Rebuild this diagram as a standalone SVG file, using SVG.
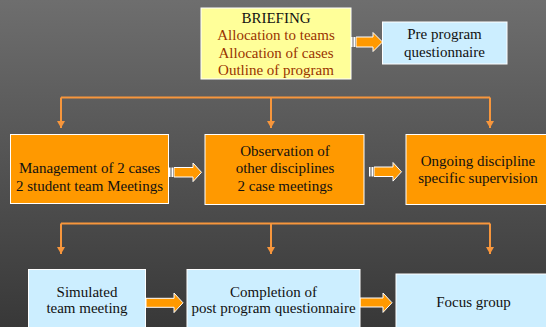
<svg xmlns="http://www.w3.org/2000/svg" width="546" height="327" viewBox="0 0 546 327" font-family="Liberation Serif, Times New Roman, serif">
<defs>
<linearGradient id="bg" x1="0" y1="0" x2="0" y2="1">
<stop offset="0" stop-color="#6e6e6e"/>
<stop offset="1" stop-color="#383838"/>
</linearGradient>
<marker id="ah" viewBox="0 0 7 8" refX="7" refY="4" markerWidth="7" markerHeight="8" markerUnits="userSpaceOnUse" orient="auto">
<path d="M0,0 L7,4 L0,8 z" fill="#f7963c"/>
</marker>
<style>
.t{font-size:15px;text-anchor:middle;fill:#111}
.br{fill:#993300}
.box{stroke:#ffffff;stroke-width:1}
.yel{fill:#ffff99}
.blu{fill:#cceeff}
.org{fill:#ff9900}
.ln{fill:none;stroke:#f7963c;stroke-width:2}
.ba{fill:#ff9900;stroke:#ffffff;stroke-width:1}
.st{fill:#ffffff}
</style>
</defs>
<rect x="0" y="0" width="546" height="327" fill="url(#bg)"/>

<g id="connectors">
<path class="ln" d="M61,97.5 H490"/>
<path class="ln" d="M61,97.5 V128" marker-end="url(#ah)"/>
<path class="ln" d="M271,97.5 V128" marker-end="url(#ah)"/>
<path class="ln" d="M490,97.5 V128" marker-end="url(#ah)"/>
<path class="ln" d="M61,223.5 H490"/>
<path class="ln" d="M61,223.5 V254" marker-end="url(#ah)"/>
<path class="ln" d="M271,223.5 V254" marker-end="url(#ah)"/>
<path class="ln" d="M490,223.5 V254" marker-end="url(#ah)"/>
<g id="arrow-top">
<rect class="st" x="351" y="37" width="1.5" height="10"/>
<rect class="st" x="353.5" y="37" width="1.5" height="10"/>
<path class="ba" d="M356,37 H373 V32.5 L382.5,42 L373,51.5 V47 H356 z"/>
</g>
<g id="arrow-r2a">
<rect class="st" x="169" y="167.5" width="1.5" height="9.5"/>
<rect class="st" x="171.5" y="167.5" width="1.5" height="9.5"/>
<path class="ba" d="M174,167.5 H193 V163 L201.5,172.3 L193,181.6 V177 H174 z"/>
</g>
<g id="arrow-r2b">
<rect class="st" x="369" y="167" width="1.5" height="9.5"/>
<rect class="st" x="371.5" y="167" width="1.5" height="9.5"/>
<path class="ba" d="M374,167 H393 V162.5 L401.5,171.8 L393,181.1 V176.5 H374 z"/>
</g>
<g id="arrow-r3a">
<path class="ba" d="M146,298.3 H174 V293 L183,302.8 L174,312.6 V307.3 H146 z"/>
</g>
<g id="arrow-r3b">
<path class="ba" d="M360,298 H383 V293 L392,302.7 L383,312.4 V307 H360 z"/>
</g>
</g>

<g id="briefing">
<rect class="box yel" x="201" y="8" width="150" height="71"/>
<text class="t" x="276" y="22.5">BRIEFING</text>
<text class="t br" x="276" y="40">Allocation to teams</text>
<text class="t br" x="276" y="57.5">Allocation of cases</text>
<text class="t br" x="276" y="75">Outline of program</text>
</g>

<g id="pre-program">
<rect class="box blu" x="382.5" y="22" width="124.5" height="42"/>
<text class="t" x="444.5" y="38.5">Pre program</text>
<text class="t" x="444.5" y="56.5">questionnaire</text>
</g>

<g id="management">
<rect class="box org" x="10.5" y="134.5" width="158" height="69"/>
<text class="t" x="89.5" y="173.3">Management of 2 cases</text>
<text class="t" x="89.5" y="191">2 student team Meetings</text>
</g>

<g id="observation">
<rect class="box org" x="205" y="134.5" width="159" height="70"/>
<text class="t" x="285" y="155.7">Observation of</text>
<text class="t" x="285" y="173.3">other disciplines</text>
<text class="t" x="285" y="191">2 case meetings</text>
</g>

<g id="ongoing">
<rect class="box org" x="406" y="134.5" width="145" height="70"/>
<text class="t" x="478" y="166">Ongoing discipline</text>
<text class="t" x="478" y="183">specific supervision</text>
</g>

<g id="simulated">
<rect class="box blu" x="28.5" y="269.5" width="117" height="62"/>
<text class="t" x="87" y="297.3">Simulated</text>
<text class="t" x="87" y="313.3">team meeting</text>
</g>

<g id="completion">
<rect class="box blu" x="187" y="269.5" width="173" height="62"/>
<text class="t" x="273.5" y="297.3">Completion of</text>
<text class="t" x="273.5" y="313.3">post program questionnaire</text>
</g>

<g id="focus">
<rect class="box blu" x="396" y="274" width="155" height="58"/>
<text class="t" x="473.5" y="307">Focus group</text>
</g>
</svg>
